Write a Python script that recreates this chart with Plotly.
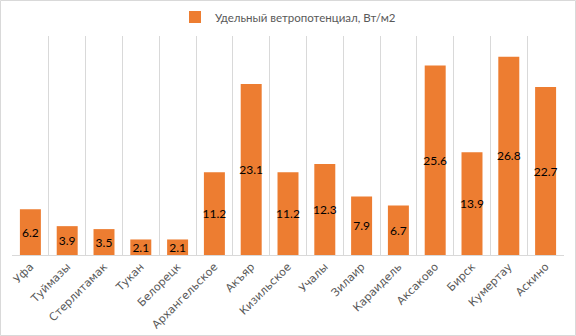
import plotly.graph_objects as go

categories = ["Уфа", "Туймазы", "Стерлитамак", "Тукан", "Белорецк", "Архангельское",
              "Акъяр", "Кизильское", "Учалы", "Зилаир", "Караидель", "Аксаково",
              "Бирск", "Кумертау", "Аскино"]
values = [6.2, 3.9, 3.5, 2.1, 2.1, 11.2, 23.1, 11.2, 12.3, 7.9, 6.7, 25.6, 13.9, 26.8, 22.7]
series_name = "Удельный ветропотенциал, Вт/м2"

W, H = 576, 336
L, R, T, B = 12, 12, 36, 81
pw, ph = W - L - R, H - T - B

fig = go.Figure(go.Bar(
    x=categories, y=values, name=series_name,
    marker=dict(color="#ED7D31", line=dict(width=0)),
    text=[f"{v:.1f}" for v in values],
    textposition="inside", insidetextanchor="middle", textangle=0,
    constraintext="none",
    textfont=dict(family="Lato", size=12, color="#000000"),
    showlegend=True,
))

fig.update_layout(
    width=W, height=H,
    margin=dict(l=L, r=R, t=T, b=B, autoexpand=False),
    paper_bgcolor="white", plot_bgcolor="white",
    bargap=0.43,
    uniformtext=dict(minsize=12, mode="show"),
    font=dict(family="Lato", size=11, color="#595959"),
    legend=dict(orientation="h", x=0.5, xanchor="center", y=1 + (T - 17) / ph, yanchor="middle",
                font=dict(family="Lato", size=11.5, color="#595959"), bgcolor="rgba(0,0,0,0)",
                itemwidth=30),
    xaxis=dict(type="category", tickson="boundaries", showgrid=True, gridcolor="#d9d9d9", gridwidth=1,
               showline=True, linecolor="#d9d9d9", linewidth=1, ticks="", tickangle=-45,
               tickfont=dict(family="DejaVu Sans", size=11, color="#595959"), fixedrange=True),
    yaxis=dict(range=[0, 29.6], visible=False, showgrid=False, zeroline=False),
    shapes=[dict(type="rect", xref="paper", yref="paper",
                 x0=-(L - 0.5) / pw, x1=1 + (R - 0.5) / pw,
                 y0=-(B - 0.5) / ph, y1=1 + (T - 0.5) / ph,
                 line=dict(color="#d9d9d9", width=1), layer="below")],
)

fig.write_html("out.html")
